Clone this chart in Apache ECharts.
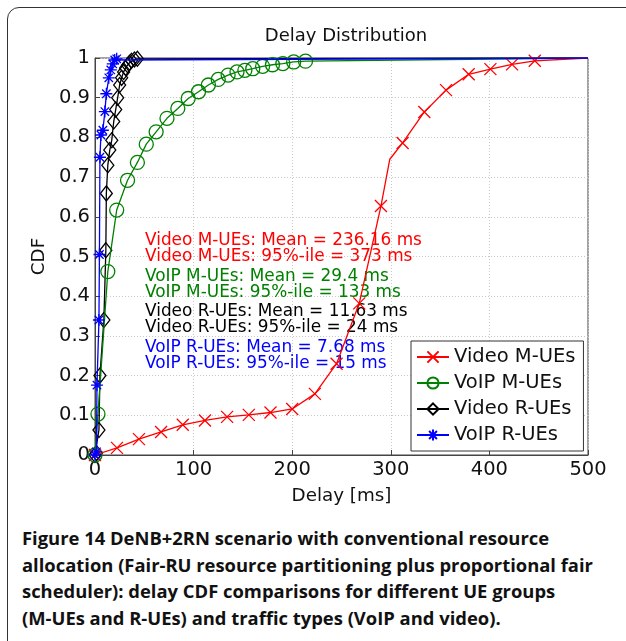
<!DOCTYPE html>
<html>
<head>
<meta charset="utf-8">
<script src="https://cdn.jsdelivr.net/npm/echarts@6/dist/echarts.min.js"></script>
<style>
  html, body { margin: 0; padding: 0; background: #fff; overflow: hidden; }
  .frame {
    position: absolute; left: 7px; top: 7px; width: 700px; height: 700px;
    border: 1.5px solid #333; border-radius: 12px;
  }
  #chart { position: absolute; left: 0; top: 0; width: 626px; height: 520px; }
  .caption {
    position: absolute; left: 22px; top: 525px; width: 620px; white-space: nowrap;
    font-family: "Open Sans", sans-serif; font-weight: bold; font-size: 18.4px;
    line-height: 26.5px; color: #111;
  }
</style>
</head>
<body>
<div class="frame"></div>
<div id="chart"></div>
<div class="caption">Figure 14 DeNB+2RN scenario with conventional resource<br>allocation (Fair-RU resource partitioning plus proportional fair<br>scheduler): delay CDF comparisons for different UE groups<br>(M-UEs and R-UEs) and traffic types (VoIP and video).</div>
<script>
// 数据 (delay ms, CDF)
const seriesNames = ['Video M-UEs', 'VoIP M-UEs', 'Video R-UEs', 'VoIP R-UEs'];

const videoM = [[0, 0], [22.3, 0.018], [44.6, 0.04], [67, 0.058], [89, 0.076], [111.5, 0.087],
  [134, 0.096], [156, 0.101], [178, 0.107], [200, 0.116], [223, 0.154], [245, 0.23],
  [268, 0.382], [290, 0.627], [299, 0.745], [312, 0.786], [334, 0.864], [356, 0.919],
  [379, 0.959], [401, 0.972], [423, 0.984], [446, 0.993], [500, 1]];
const videoMNoMark = [299, 500];

const voipM = [[0, 0], [3, 0.103], [13, 0.462], [22, 0.617], [33, 0.692], [43, 0.737],
  [52, 0.783], [62, 0.814], [73, 0.848], [84, 0.873], [94.5, 0.898], [105, 0.915],
  [115, 0.932], [125, 0.946], [135, 0.957], [144, 0.965], [152, 0.969], [160, 0.973],
  [170, 0.979], [180, 0.983], [190.5, 0.986], [201.5, 0.99], [213.5, 0.992], [500, 1]];
const voipMNoMark = [500];

const videoR = [[0, 0], [1.5, 0.005], [4, 0.063], [5, 0.2], [9, 0.34], [11, 0.516],
  [11.5, 0.659], [13, 0.73], [15, 0.768], [17, 0.793], [19, 0.84], [21, 0.87],
  [23, 0.9], [25, 0.932], [27, 0.95], [29, 0.965], [31, 0.975], [33, 0.982],
  [35, 0.988], [37, 0.993], [40, 0.996], [43, 0.998], [500, 1]];
const videoRNoMark = [500];

const voipR = [[0, 0], [1.5, 0.008], [2, 0.176], [4, 0.34], [4.5, 0.505], [5, 0.75],
  [6, 0.806], [8, 0.818], [10, 0.865], [11.5, 0.91], [14, 0.95], [16, 0.97],
  [18, 0.985], [20, 0.995], [22, 0.998], [500, 1]];
const voipRNoMark = [500];

const xTicks = [0, 100, 200, 300, 400, 500];
const yTicks = [0, 0.1, 0.2, 0.3, 0.4, 0.5, 0.6, 0.7, 0.8, 0.9, 1];

const notes = [
  ['Video M-UEs: Mean = 236.16 ms', '#ff0000'],
  ['Video M-UEs: 95%-ile = 373 ms', '#ff0000'],
  ['VoIP M-UEs: Mean = 29.4 ms', '#008000'],
  ['VoIP M-UEs: 95%-ile = 133 ms', '#008000'],
  ['Video R-UEs: Mean = 11.63 ms', '#000000'],
  ['Video R-UEs: 95%-ile = 24 ms', '#000000'],
  ['VoIP R-UEs: Mean = 7.68 ms', '#0000ff'],
  ['VoIP R-UEs: 95%-ile = 15 ms', '#0000ff']
];
const noteTops = [232, 248, 268, 284, 303, 319, 339, 355];

function withMarks(arr, noMark) {
  return arr.map(p => noMark.indexOf(p[0]) >= 0 ? { value: p, symbol: 'none' } : p);
}

const font = 'DejaVu Sans, sans-serif';
const crossPath = 'path://M0,0L10,10M10,0L0,10';
const starPath = 'path://M5,0L5,10M0,5L10,5M1.5,1.5L8.5,8.5M8.5,1.5L1.5,8.5';

const myChart = echarts.init(document.getElementById('chart'));
myChart.setOption({
  animation: false,
  textStyle: { fontFamily: font },
  title: {
    text: 'Delay Distribution',
    left: 341, top: 22, textAlign: 'center',
    textStyle: { fontSize: 18, fontWeight: 'normal', color: '#111', fontFamily: font }
  },
  grid: {
    left: 95, right: 38, top: 58, bottom: 65,
    show: true, borderColor: '#444', borderWidth: 1
  },
  legend: {
    orient: 'vertical', left: 411, top: 341,
    width: 172, padding: [6, 8, 6, 5], itemGap: 6,
    itemWidth: 32, itemHeight: 14,
    borderColor: '#333', borderWidth: 1, backgroundColor: '#fff',
    textStyle: { fontSize: 19.5, color: '#111', fontFamily: font },
    data: seriesNames
  },
  xAxis: {
    type: 'value', min: 0, max: 500, interval: 100,
    name: 'Delay [ms]', nameLocation: 'middle', nameGap: 32,
    nameTextStyle: { fontSize: 18.3, color: '#111' },
    axisLine: { show: true, lineStyle: { color: '#444' } },
    axisTick: { inside: true, length: 5, lineStyle: { color: '#444' } },
    axisLabel: { fontSize: 19.5, color: '#111', margin: 5,
      formatter: v => xTicks.indexOf(v) >= 0 ? String(v) : '' },
    splitLine: { lineStyle: { color: '#c8c8c8', type: [1, 2] } }
  },
  yAxis: {
    type: 'value', min: 0, max: 1, interval: 0.1,
    name: 'CDF', nameLocation: 'middle', nameGap: 45, nameRotate: 90,
    nameTextStyle: { fontSize: 18.3, color: '#111' },
    axisLine: { show: true, lineStyle: { color: '#444' } },
    axisTick: { show: true, inside: true, length: 5, lineStyle: { color: '#444' } },
    axisLabel: { fontSize: 19.5, color: '#111', margin: 5,
      formatter: v => {
        const t = yTicks.find(y => Math.abs(y - v) < 1e-6);
        if (t === undefined) return '';
        return (t === 0 || t === 1) ? String(t) : t.toFixed(1);
      } },
    splitLine: { lineStyle: { color: '#c8c8c8', type: [1, 2] } }
  },
  graphic: notes.map((n, i) => ({
    type: 'text', left: 145, top: noteTops[i], z: 1,
    style: { text: n[0], fill: n[1], fontSize: 16.9, fontFamily: font }
  })),
  series: [
    {
      name: seriesNames[0], type: 'line', data: withMarks(videoM, videoMNoMark),
      symbol: crossPath, symbolSize: 12, z: 5,
      lineStyle: { color: '#ff0000', width: 1.3 },
      itemStyle: { color: '#ff0000', borderColor: '#ff0000', borderWidth: 1.3 }
    },
    {
      name: seriesNames[1], type: 'line', data: withMarks(voipM, voipMNoMark),
      symbol: 'circle', symbolSize: 14, z: 4,
      lineStyle: { color: '#008000', width: 1.3 },
      itemStyle: { color: 'rgba(0,0,0,0)', borderColor: '#008000', borderWidth: 1.3 }
    },
    {
      name: seriesNames[2], type: 'line', data: withMarks(videoR, videoRNoMark),
      symbol: 'diamond', symbolSize: [12, 15], z: 3,
      lineStyle: { color: '#000000', width: 1.3 },
      itemStyle: { color: 'rgba(0,0,0,0)', borderColor: '#000000', borderWidth: 1.3 }
    },
    {
      name: seriesNames[3], type: 'line', data: withMarks(voipR, voipRNoMark),
      symbol: starPath, symbolSize: 12, z: 6,
      lineStyle: { color: '#0000ff', width: 1.3 },
      itemStyle: { color: '#0000ff', borderColor: '#0000ff', borderWidth: 1.3 }
    }
  ]
});
</script>
</body>
</html>
